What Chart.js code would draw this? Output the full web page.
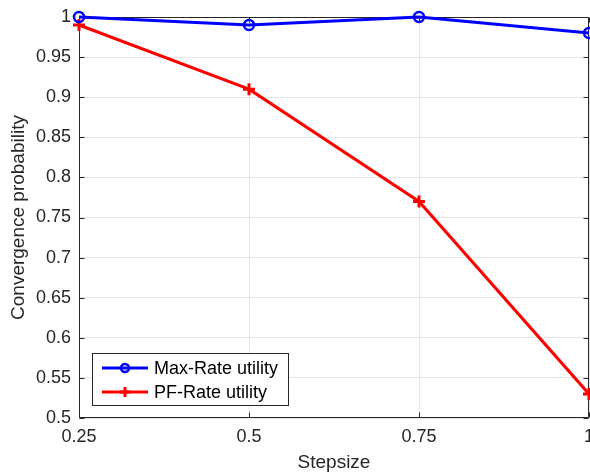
<!DOCTYPE html>
<html>
<head>
<meta charset="utf-8">
<script src="https://cdn.jsdelivr.net/npm/chart.js@4/dist/chart.umd.min.js"></script>
<style>
  html, body { margin: 0; padding: 0; background: #fff; }
  #wrap { width: 590px; height: 472px; }
</style>
</head>
<body>
<div id="wrap"><canvas id="c" width="590" height="472"></canvas></div>
<script>
// step sizes on the x axis
var stepsizes = [0.25, 0.5, 0.75, 1];
// convergence probability per utility
var maxRate = [1, 0.99, 1, 0.98];
var pfRate = [0.99, 0.91, 0.77, 0.53];
var seriesNames = ['Max-Rate utility', 'PF-Rate utility'];
// tick values
var xTicks = [0.25, 0.5, 0.75, 1];
var yTicks = [0.5, 0.55, 0.6, 0.65, 0.7, 0.75, 0.8, 0.85, 0.9, 0.95, 1];

var FONT = '"Liberation Sans", Arial, Helvetica, sans-serif';
var AXIS = '#262626';

function pts(ys) {
  return stepsizes.map(function(x, i) { return {x: x, y: ys[i]}; });
}

/* MATLAB-ish box: axis lines all round, ticks pointing inward */
var boxPlugin = {
  id: 'box',
  beforeDatasetsDraw: function(chart) {
    var ctx = chart.ctx, a = chart.chartArea;
    var xs = chart.scales.x, ys = chart.scales.y;
    var L = Math.round(a.left) + 0.5, R = Math.round(a.right) - 0.5;
    var T = Math.round(a.top) + 0.5, B = Math.round(a.bottom) - 0.5;
    ctx.save();
    ctx.strokeStyle = AXIS;
    ctx.lineWidth = 1;
    ctx.beginPath();
    ctx.rect(L, T, R - L, B - T);
    xTicks.forEach(function(v) {
      var px = Math.round(xs.getPixelForValue(v)) + 0.5;
      ctx.moveTo(px, B); ctx.lineTo(px, B - 5);
      ctx.moveTo(px, T); ctx.lineTo(px, T + 5);
    });
    yTicks.forEach(function(v) {
      var py = Math.round(ys.getPixelForValue(v)) + 0.5;
      ctx.moveTo(L, py); ctx.lineTo(L + 5, py);
      ctx.moveTo(R, py); ctx.lineTo(R - 5, py);
    });
    ctx.stroke();
    ctx.restore();
  },
  afterDraw: function(chart) {
    // legend box, lower left inside the axes
    var ctx = chart.ctx;
    var bx = 92.5, by = 353.5, bw = 196, bh = 52;
    ctx.save();
    ctx.fillStyle = '#fff';
    ctx.fillRect(bx, by, bw, bh);
    ctx.strokeStyle = AXIS;
    ctx.lineWidth = 1;
    ctx.strokeRect(bx, by, bw, bh);
    chart.data.datasets.forEach(function(ds, i) {
      var cy = 368 + i * 24;
      ctx.strokeStyle = ds.borderColor;
      ctx.lineWidth = ds.borderWidth;
      ctx.beginPath();
      ctx.moveTo(102, cy); ctx.lineTo(148, cy);
      ctx.stroke();
      ctx.lineWidth = ds.pointBorderWidth;
      ctx.beginPath();
      if (ds.pointStyle === 'circle') {
        ctx.arc(125, cy, 4, 0, Math.PI * 2);
      } else {
        ctx.moveTo(120, cy); ctx.lineTo(130, cy);
        ctx.moveTo(125, cy - 5); ctx.lineTo(125, cy + 5);
      }
      ctx.stroke();
      ctx.fillStyle = '#000';
      ctx.font = '18px ' + FONT;
      ctx.textBaseline = 'middle';
      ctx.textAlign = 'left';
      ctx.fillText(ds.label, 154, cy + 1);
    });
    ctx.restore();
  }
};

var config = {
  type: 'line',
  data: {
    datasets: [{
      label: seriesNames[0],
      data: pts(maxRate),
      borderColor: '#0000ff',
      backgroundColor: '#fff',
      borderWidth: 3,
      pointStyle: 'circle',
      pointRadius: 5,
      pointBorderWidth: 2.5,
      pointBackgroundColor: 'rgba(0,0,0,0)',
      clip: false
    }, {
      label: seriesNames[1],
      data: pts(pfRate),
      borderColor: '#ff0000',
      backgroundColor: '#fff',
      borderWidth: 3,
      pointStyle: 'cross',
      pointRadius: 6,
      pointBorderWidth: 3,
      clip: false
    }]
  },
  options: {
    responsive: false,
    animation: false,
    layout: { autoPadding: false, padding: { top: 17, right: 1, left: 0, bottom: 0 } },
    plugins: { legend: { display: false }, tooltip: { enabled: false } },
    scales: {
      x: {
        type: 'linear',
        min: 0.25, max: 1,
        afterBuildTicks: function(s) { s.ticks = xTicks.map(function(v) { return {value: v}; }); },
        afterFit: function(s) { s.height = 54; s.paddingLeft = 0; s.paddingRight = 0; },
        grid: { color: '#e6e6e6', drawTicks: false },
        border: { display: false },
        ticks: {
          padding: 8, color: AXIS, maxRotation: 0,
          font: { family: FONT, size: 18 },
          callback: function(v) { return String(v); }
        },
        title: {
          display: true, text: 'Stepsize', color: AXIS,
          font: { family: FONT, size: 19, lineHeight: 1 },
          padding: { top: 0, bottom: 0 }
        }
      },
      y: {
        min: 0.5, max: 1,
        afterBuildTicks: function(s) { s.ticks = yTicks.map(function(v) { return {value: v}; }); },
        afterFit: function(s) { s.width = 79; s.paddingTop = 0; s.paddingBottom = 0; },
        grid: { color: '#e6e6e6', drawTicks: false },
        border: { display: false },
        ticks: {
          padding: 8, color: AXIS,
          font: { family: FONT, size: 18 },
          callback: function(v) { return String(+v.toFixed(2)); }
        },
        title: {
          display: true, text: 'Convergence probability', color: AXIS,
          font: { family: FONT, size: 19, lineHeight: 1 },
          padding: { top: 9, bottom: 0 }
        }
      }
    }
  },
  plugins: [boxPlugin]
};

new Chart(document.getElementById('c'), config);
</script>
</body>
</html>
